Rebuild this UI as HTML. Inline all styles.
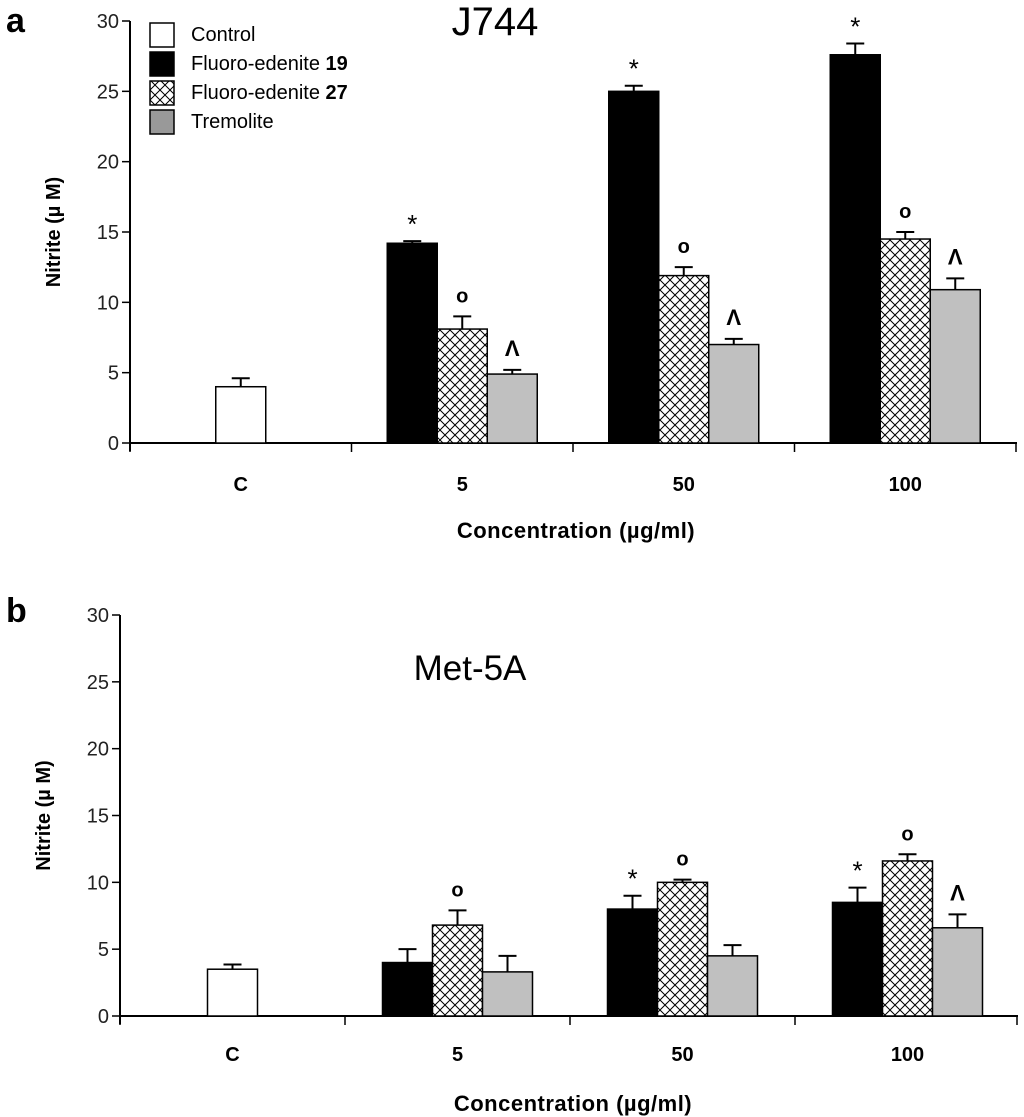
<!DOCTYPE html>
<html><head><meta charset="utf-8"><style>
body{margin:0;background:#fff;}
svg{display:block;font-family:"Liberation Sans",Arial,sans-serif;}
</style></head><body>
<svg id="fig" width="1024" height="1117" viewBox="0 0 1024 1117">
<defs>
<pattern id="hatch" patternUnits="userSpaceOnUse" width="10" height="10">
<rect width="10" height="10" fill="#fff"/>
<path d="M0,0L10,10M10,0L0,10" stroke="#000" stroke-width="1"/>
</pattern>
</defs>
<text x="6" y="32" font-size="34" font-weight="bold">a</text>
<text x="6" y="622" font-size="34" font-weight="bold">b</text>
<text x="495" y="35" font-size="40" text-anchor="middle">J744</text>
<text x="470" y="680" font-size="35" text-anchor="middle">Met-5A</text>
<g>
<g><rect x="150" y="23" width="24" height="24" fill="#fff" stroke="#000" stroke-width="1.5"/><text x="191" y="41" font-size="20">Control</text></g>
<g><rect x="150" y="52" width="24" height="24" fill="#000" stroke="#000" stroke-width="1.5"/><text x="191" y="70" font-size="20">Fluoro-edenite <tspan font-weight="bold">19</tspan></text></g>
<g><rect x="150" y="81" width="24" height="24" fill="url(#hatch)" stroke="#000" stroke-width="1.5"/><text x="191" y="99" font-size="20">Fluoro-edenite <tspan font-weight="bold">27</tspan></text></g>
<g><rect x="150" y="110" width="24" height="24" fill="#999" stroke="#000" stroke-width="1.5"/><text x="191" y="128" font-size="20">Tremolite</text></g>
</g>
<g id="chartA"></g>
<g id="chartB"></g>
</svg>
<script>
const categories = ["C","5","50","100"];
const seriesNames = ["Fluoro-edenite 19","Fluoro-edenite 27","Tremolite"];
const controlA = [4.0, 0.6];
const fe19A = [14.2, 25.0, 27.6];
const fe19ErrA = [0.15, 0.4, 0.8];
const fe27A = [8.1, 11.9, 14.5];
const fe27ErrA = [0.9, 0.6, 0.5];
const tremA = [4.9, 7.0, 10.9];
const tremErrA = [0.3, 0.4, 0.8];
const marksA = [["*","o","^"],["*","o","^"],["*","o","^"]];
const controlB = [3.5, 0.35];
const fe19B = [4.0, 8.0, 8.5];
const fe19ErrB = [1.0, 1.0, 1.1];
const fe27B = [6.8, 10.0, 11.6];
const fe27ErrB = [1.1, 0.2, 0.5];
const tremB = [3.3, 4.5, 6.6];
const tremErrB = [1.2, 0.8, 1.0];
const marksB = [["","o",""],["*","o",""],["*","o","^"]];
const yTicks = [0,5,10,15,20,25,30];

const NS = "http://www.w3.org/2000/svg";
function mk(parent, tag, attrs, txt){
  const e = document.createElementNS(NS, tag);
  for (const k in attrs) e.setAttribute(k, attrs[k]);
  if (txt !== undefined) e.textContent = txt;
  parent.appendChild(e);
  return e;
}
function draw(g, cfg){
  const {x0, xEnd, y0, yTop, spacing, control, vals, errs, marks, labelY, titleY} = cfg;
  const ys = v => y0 - (y0 - yTop) * v / 30;
  const xc = i => x0 + spacing * (i + 0.5);
  const ya = mk(g, "line", {x1:x0, y1:yTop, x2:x0, y2:y0+8, stroke:"#000", "stroke-width":2});
  
  
  yTicks.forEach(t => {
    const tk = mk(g, "line", {x1:x0-8, y1:ys(t), x2:x0, y2:ys(t), stroke:"#000", "stroke-width":1.5});
    
    
    const tl = mk(g, "text", {x:x0-11, y:ys(t)+7, "font-size":20, "text-anchor":"end", fill:"#222"}, String(t));
    
    
  });
  const xa = mk(g, "line", {x1:x0, y1:y0, x2:xEnd, y2:y0, stroke:"#000", "stroke-width":2});
  
  
  for (let i = 0; i <= categories.length; i++) {
    const tx = Math.min(x0 + spacing * i, xEnd - 1);
    const tk = mk(g, "line", {x1:tx, y1:y0, x2:tx, y2:y0+9, stroke:"#000", "stroke-width":1.5});
    
    
  }
  categories.forEach((c, i) => {
    const t = mk(g, "text", {x:xc(i), y:labelY, "font-size":20, "font-weight":"bold", "text-anchor":"middle"}, c);
    
    
  });
  const xt = mk(g, "text", {x:x0 + spacing*2 + 3, y:titleY, "font-size":22, "font-weight":"bold", "text-anchor":"middle", "letter-spacing":"0.5"}, "Concentration  (µg/ml)");
  
  
  const ycy = (y0 + yTop) / 2;
  const yt = mk(g, "text", {x:0, y:0, "font-size":20, "font-weight":"bold", "text-anchor":"middle", transform:`translate(${x0-70},${ycy}) rotate(-90)`}, "Nitrite (µ M)");
  
  
  const bw = 50;
  function bar(x, v, e, fill, name, mark){
    const yb = ys(v), ye = ys(v + e);
    const ln = mk(g, "line", {x1:x+bw/2, y1:yb, x2:x+bw/2, y2:ye, stroke:"#000", "stroke-width":2});
    
    
    const cap = mk(g, "line", {x1:x+bw/2-9, y1:ye, x2:x+bw/2+9, y2:ye, stroke:"#000", "stroke-width":2});
    
    
    const r = mk(g, "rect", {x:x, y:yb, width:bw, height:y0-yb, fill:fill, stroke:"#000", "stroke-width":1.5});
    
    
    if (mark) {
      const my = ye - 14;
      let m;
      if (mark === "*") m = mk(g, "text", {x:x+bw/2, y:my+6, "font-size":26, "text-anchor":"middle"}, "*");
      else if (mark === "o") m = mk(g, "text", {x:x+bw/2, y:my, "font-size":20, "font-weight":"bold", "text-anchor":"middle"}, "o");
      else m = mk(g, "text", {x:x+bw/2, y:my, "font-size":22, "font-weight":"bold", "text-anchor":"middle"}, "Λ");
      
      
    }
  }
  bar(xc(0) - bw/2, control[0], control[1], "#fff", "bar-control", "");
  const fills = ["#000", "url(#hatch)", "#c0c0c0"];
  const names = ["bar-fe19", "bar-fe27", "bar-tremolite"];
  for (let j = 0; j < 3; j++) {
    for (let s = 0; s < 3; s++) {
      bar(xc(j+1) - 75 + s*bw, vals[s][j], errs[s][j], fills[s], names[s] + "-" + categories[j+1], marks[j][s]);
    }
  }
}
draw(document.getElementById("chartA"), {x0:130, xEnd:1017, y0:443, yTop:21, spacing:221.5,
  control:controlA, vals:[fe19A, fe27A, tremA], errs:[fe19ErrA, fe27ErrA, tremErrA], marks:marksA, labelY:491, titleY:538});
draw(document.getElementById("chartB"), {x0:120, xEnd:1018, y0:1016, yTop:615, spacing:225,
  control:controlB, vals:[fe19B, fe27B, tremB], errs:[fe19ErrB, fe27ErrB, tremErrB], marks:marksB, labelY:1061, titleY:1111});
</script>
</body></html>
